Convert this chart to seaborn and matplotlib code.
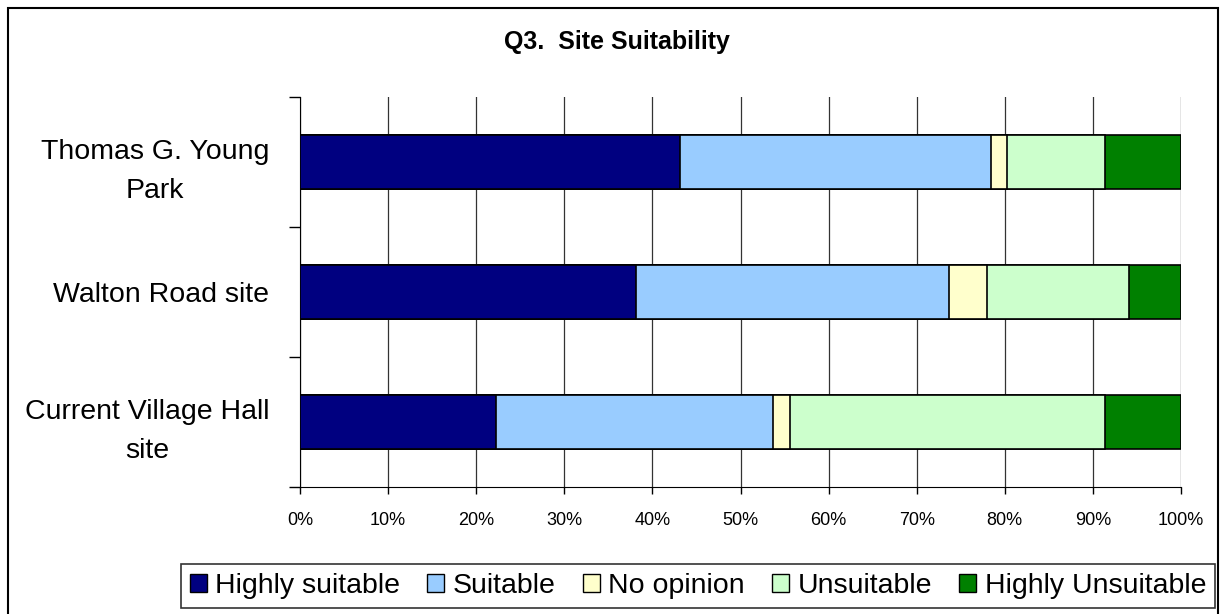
import numpy as np
import pandas as pd
import matplotlib
matplotlib.use('Agg')
import matplotlib.pyplot as plt
import seaborn as sns
from matplotlib.patches import Patch, Rectangle

sites = ['Thomas G. Young\nPark', 'Walton Road site', 'Current Village Hall\nsite']
answers = ['Highly suitable', 'Suitable', 'No opinion', 'Unsuitable', 'Highly Unsuitable']
colores = ['#000080', '#99CCFF', '#FFFFCC', '#CCFFCC', '#008000']

highly_suitable = [43.1, 38.1, 22.2]
suitable = [35.3, 35.6, 31.5]
no_opinion = [1.9, 4.3, 1.9]
unsuitable = [11.1, 16.1, 35.8]
highly_unsuitable = [8.6, 5.9, 8.6]

xticks = np.arange(0, 101, 10)
xlabels = [f'{t}%' for t in xticks]

df = pd.DataFrame({'site': sites,
                   'Highly suitable': highly_suitable,
                   'Suitable': suitable,
                   'No opinion': no_opinion,
                   'Unsuitable': unsuitable,
                   'Highly Unsuitable': highly_unsuitable})
cum = df[answers].cumsum(axis=1)

plt.rcParams['font.family'] = ['Liberation Sans', 'DejaVu Sans']

fig = plt.figure(figsize=(12.25, 6.14), dpi=100)
ax = fig.add_axes([300/1225, 1 - 487/614, (1181 - 300)/1225, (487 - 97)/614])

# barras apiladas: se dibuja de la mas larga a la mas corta
for ans, col in reversed(list(zip(answers, colores))):
    sns.barplot(x=cum[ans], y=df['site'], color=col, orient='h', width=0.41,
                edgecolor='black', linewidth=1.2, saturation=1, ax=ax, zorder=3)

ax.set_xlim(0, 100)
ax.set_ylim(2.5, -0.5)
ax.set_xticks(xticks)
ax.set_xticklabels(xlabels, fontsize=13)
ax.set_xlabel('')
ax.set_ylabel('')
ax.grid(axis='x', color='#333333', linewidth=0.9, zorder=0)
ax.set_axisbelow(True)
ax.spines['top'].set_visible(False)
ax.spines['right'].set_visible(False)
ax.spines['left'].set_color('black')
ax.spines['bottom'].set_color('black')
ax.tick_params(axis='x', length=5, width=1, pad=13, color='black')
ax.tick_params(axis='y', which='major', length=0, pad=22)
ax.set_yticks([-0.5, 0.5, 1.5, 2.5], minor=True)
ax.tick_params(axis='y', which='minor', length=8, width=1, color='black')
for lab in ax.get_yticklabels():
    lab.set_fontsize(20.5)
    lab.set_multialignment('center')
    lab.set_linespacing(1.65)

fig.text(617/1225, 1 - 42/614, 'Q3.  Site Suitability', fontsize=18, fontweight='bold',
         ha='center', va='center')

# marco exterior
fig.patches.append(Rectangle((8/1225, -0.05), (1218 - 8)/1225, 1.05 - 8/614,
                             transform=fig.transFigure, fill=False,
                             edgecolor='black', linewidth=1.5))

handles = [Patch(facecolor=c, edgecolor='black', label=a) for a, c in zip(answers, colores)]
leg = fig.legend(handles=handles, ncol=5, loc='center', bbox_to_anchor=(698/1225, 1 - 586/614),
                 fontsize=20.5, frameon=True, fancybox=False, edgecolor='black',
                 handlelength=0.6, handleheight=0.6, handletextpad=0.3,
                 columnspacing=0.95, borderpad=0.3, borderaxespad=0)
leg.get_frame().set_linewidth(1.2)

fig.savefig('out.png', dpi=100, facecolor='white')
